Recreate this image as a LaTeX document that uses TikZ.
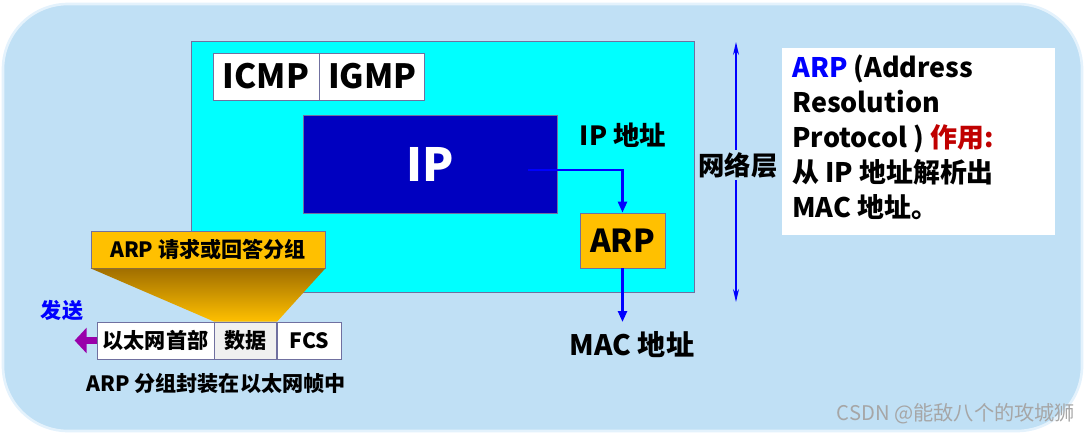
\documentclass[tikz,border=0pt]{standalone}
\usepackage{fontspec}
\setmainfont{Noto Sans CJK SC}
\usetikzlibrary{arrows.meta}
\definecolor{bgblue}{RGB}{192,224,245}
\definecolor{bgedge}{RGB}{228,242,252}
\definecolor{netcyan}{RGB}{0,255,255}
\definecolor{ipblue}{RGB}{0,0,192}
\definecolor{arpgold}{RGB}{255,192,0}
\definecolor{darkgold}{RGB}{160,110,0}
\definecolor{framegray}{RGB}{112,112,160}
\definecolor{sendpurple}{RGB}{153,0,170}
\definecolor{titlered}{RGB}{192,0,0}
\definecolor{datagray}{RGB}{240,240,240}
\tikzset{
  cell/.style={draw=framegray, fill=white, inner sep=0pt, font=\fontsize{12}{14}\selectfont\bfseries},
  goldbox/.style={cell, fill=arpgold},
  flow/.style={draw=blue, line width=1.4pt, -{Triangle[length=2.2mm,width=1.8mm]}},
  lbl/.style={font=\fontsize{15}{18}\selectfont\bfseries}
}
\begin{document}
\begin{tikzpicture}[x=0.2mm,y=-0.2mm]
  \useasboundingbox (0,0) rectangle (1085,435);
  % background
  \draw[fill=bgblue, draw=bgedge, line width=1.5pt, rounded corners=13mm] (3,4) rectangle (1082,431);
  % network layer block
  \draw[fill=netcyan, draw=framegray] (191,41) rectangle (694,292);
  \node[cell, minimum width=21.2mm, minimum height=9.4mm, font=\fontsize{19}{22}\selectfont\bfseries] (icmp) at (266,76.5) {ICMP};
  \node[cell, minimum width=21mm, minimum height=9.4mm, font=\fontsize{19}{22}\selectfont\bfseries, anchor=west] (igmp) at (icmp.east) {IGMP};
  \node[cell, fill=ipblue, text=white, minimum width=50.8mm, minimum height=19.6mm, font=\fontsize{26}{30}\selectfont\bfseries] (ip) at (430,164) {IP};
  \node[goldbox, minimum width=17mm, minimum height=11mm, font=\fontsize{18}{21}\selectfont\bfseries] (arp) at (622.5,240.5) {ARP};
  \node[lbl] (ipaddr) at (623,135) {IP 地址};
  \node[lbl, font=\fontsize{16}{19}\selectfont\bfseries] (mac) at (632,345) {MAC 地址};
  \coordinate (ipout) at (528,170);
  \coordinate (macin) at (624,322);
  \draw[flow] (ipout) -| (arp.north);
  \draw[flow] (arp.south) -- (arp.south |- macin);
  % network layer span
  \coordinate (spantop) at (736,42);
  \coordinate (spanbot) at (736,302);
  \draw[blue, line width=0.8pt, {Stealth[length=2.6mm,width=1.2mm]}-{Stealth[length=2.6mm,width=1.2mm]}] (spantop) -- (spanbot);
  \node[lbl, fill=bgblue, inner sep=1pt] (netlbl) at (738,165) {网络层};
  % explanation
  \node[fill=white, minimum width=54.6mm, minimum height=37.4mm] (infobox) at (918.5,141.5) {};
  \node[anchor=north west, align=left, inner sep=0pt, font=\fontsize{15.3}{19.8}\selectfont\bfseries] (info) at (792,55)
    {\textcolor{blue}{ARP} (Address\\Resolution\\Protocol ) \textcolor{titlered}{作用:}\\从 IP 地址解析出\\MAC 地址。};
  % ethernet frame
  \node[goldbox, minimum width=46.8mm, minimum height=7.4mm] (req) at (208,249.5) {ARP 请求或回答分组};
  \node[cell, minimum width=23.4mm, minimum height=7.4mm] (hdr) at (155.5,340.5) {以太网首部};
  \node[cell, fill=datagray, minimum width=12.4mm, minimum height=7.4mm, anchor=west] (data) at (hdr.east) {数据};
  \node[cell, minimum width=12.8mm, minimum height=7.4mm, anchor=west] (fcs) at (data.east) {FCS};
  \shade[top color=darkgold, bottom color=arpgold] (req.south west) -- (req.south east) -- (data.north east) -- (data.north west) -- cycle;
  \draw[sendpurple, line width=4pt, -{Triangle[length=2.4mm,width=5mm]}] (hdr.west) -- ++(-22,0);
  \node[font=\fontsize{12}{14}\selectfont\bfseries, text=blue] (send) at (62,311) {发送};
  \node[font=\fontsize{12}{14}\selectfont\bfseries] (caption) at (216,384) {ARP 分组封装在以太网帧中};
  \node[font=\fontsize{11.5}{14}\selectfont, text=gray!70] (mark) at (956,414) {CSDN @能敌八个的攻城狮};
\end{tikzpicture}
\end{document}
